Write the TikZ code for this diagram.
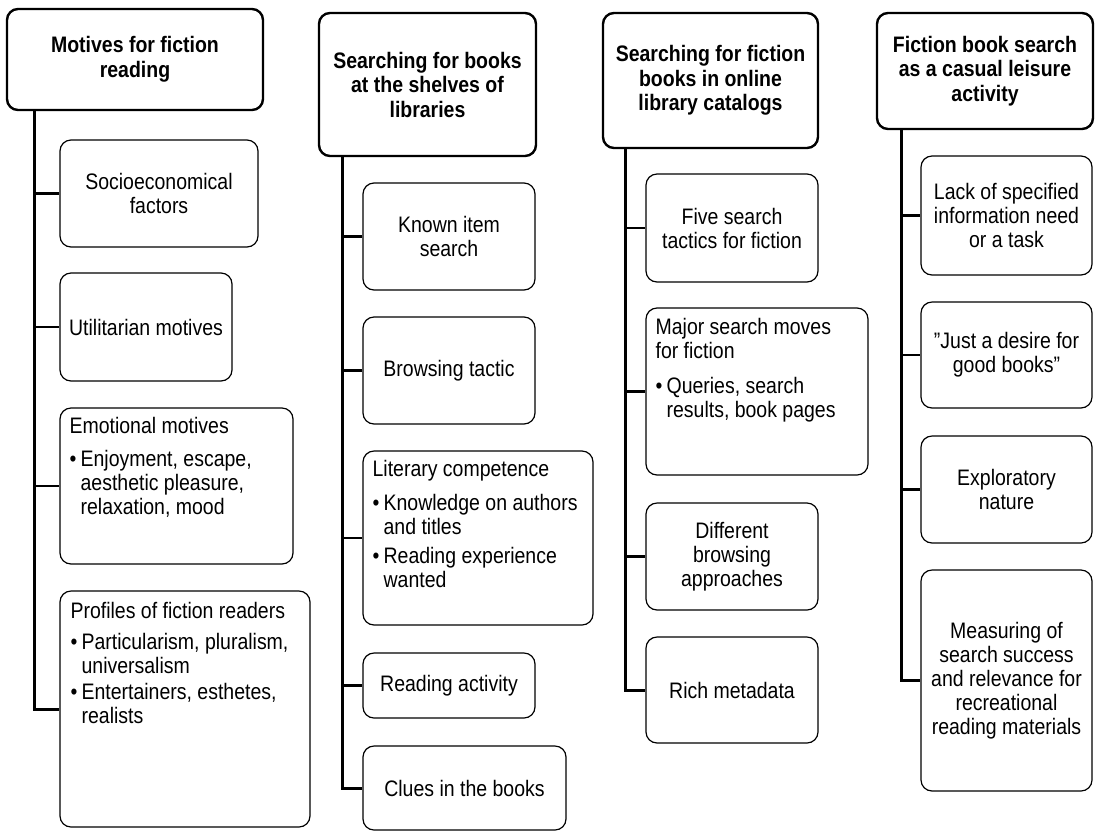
\documentclass[tikz,border=0pt]{standalone}
\usepackage{fontspec}
\setmainfont{Liberation Sans}[FakeStretch=0.87]
\newcommand\bul{\makebox[11pt][l]{\textbullet}}
\newcommand\ind{\hspace*{11pt}}
% rectangle node given by its corners: style, name, x1, y1, x2, y2, text
\newcommand\boxat[7]{%
  \node[#1, minimum width={(#5-#3)*1pt}, minimum height={(#6-#4)*1pt}]
    (#2) at ({(#3+#5)/2},{(#4+#6)/2}) {#7};}
\begin{document}
\begin{tikzpicture}[x=1pt,y=-1pt,
  every node/.style={font=\fontsize{22.4}{24}\selectfont, inner sep=0pt, text=black},
  hdr/.style={draw, line width=2.4pt, rounded corners=11pt, align=center,
    font=\fontsize{22.4}{24.5}\selectfont\bfseries},
  itembox/.style={draw, line width=1.2pt, rounded corners=11pt, align=center},
  listtext/.style={anchor=north west, align=left},
  trunk/.style={line width=3pt},
  branch/.style={line width=2.8pt}]
\useasboundingbox (0,0) rectangle (1100,831);

% ---------- column 1 ----------
\boxat{hdr}{h1}{7}{9}{263}{110}{Motives for fiction\\reading}
\boxat{itembox}{a1}{60}{140}{258}{247}{Socioeconomical\\factors}
\boxat{itembox}{a2}{60}{273}{232}{381}{Utilitarian motives}
\boxat{itembox}{a3}{60}{408}{293}{564}{}
\boxat{itembox}{a4}{60}{591}{310}{827}{}
\node[listtext] (a3t) at ([xshift=10pt,yshift=-10pt]a3.north west)
  {Emotional motives\\[9pt]
   \bul Enjoyment, escape,\\ \ind aesthetic pleasure,\\ \ind relaxation, mood};
\node[listtext] (a4t) at ([xshift=11pt,yshift=-12pt]a4.north west)
  {Profiles of fiction readers\\[7pt]
   \bul Particularism, pluralism,\\ \ind universalism\\[2pt]
   \bul Entertainers, esthetes,\\ \ind realists};
\coordinate (c1) at (34,0);
\draw[trunk] (h1.south -| c1) |- (a4.west);
\foreach \b in {a1,a2,a3} \draw[branch] (c1 |- \b.west) -- (\b.west);

% ---------- column 2 ----------
\boxat{hdr}{h2}{319}{13}{536}{156}{Searching for books\\at the shelves of\\libraries}
\boxat{itembox}{b1}{363}{183}{535}{290}{Known item\\search}
\boxat{itembox}{b2}{363}{317}{535}{424}{Browsing tactic}
\boxat{itembox}{b3}{363}{451}{593}{625}{}
\boxat{itembox}{b4}{363}{653}{535}{718}{Reading activity}
\boxat{itembox}{b5}{363}{746}{566}{830}{Clues in the books}
\node[listtext] (b3t) at ([xshift=10pt,yshift=-10pt]b3.north west)
  {Literary competence\\[10pt]
   \bul Knowledge on authors\\ \ind and titles\\[5pt]
   \bul Reading experience\\ \ind wanted};
\coordinate (c2) at (342,0);
\draw[trunk] (h2.south -| c2) |- (b5.west);
\foreach \b in {b1,b2,b3,b4} \draw[branch] (c2 |- \b.west) -- (\b.west);

% ---------- column 3 ----------
\boxat{hdr}{h3}{603}{13}{818}{148}{Searching for fiction\\books in online\\library catalogs}
\boxat{itembox}{d1}{646}{174}{818}{282}{Five search\\tactics for fiction}
\boxat{itembox}{d2}{646}{308}{868}{475}{}
\boxat{itembox}{d3}{646}{503}{818}{610}{Different\\browsing\\approaches}
\boxat{itembox}{d4}{646}{637}{818}{743}{Rich metadata}
\node[listtext] (d2t) at ([xshift=10pt,yshift=-11pt]d2.north west)
  {Major search moves\\for fiction\\[11pt]
   \bul Queries, search\\ \ind results, book pages};
\coordinate (c3) at (625,0);
\draw[trunk] (h3.south -| c3) |- (d4.west);
\foreach \b in {d1,d2,d3} \draw[branch] (c3 |- \b.west) -- (\b.west);

% ---------- column 4 ----------
\boxat{hdr}{h4}{877}{13}{1093}{129}{Fiction book search\\as a casual leisure\\activity}
\boxat{itembox}{e1}{921}{156}{1092}{275}{Lack of specified\\information need\\or a task}
\boxat{itembox}{e2}{921}{302}{1092}{408}{”Just a desire for\\good books”}
\boxat{itembox}{e3}{921}{436}{1092}{543}{Exploratory\\nature}
\boxat{itembox}{e4}{921}{570}{1092}{791}{Measuring of\\search success\\and relevance for\\recreational\\reading materials}
\coordinate (c4) at (901,0);
\draw[trunk] (h4.south -| c4) |- (e4.west);
\foreach \b in {e1,e2,e3} \draw[branch] (c4 |- \b.west) -- (\b.west);
\end{tikzpicture}
\end{document}
